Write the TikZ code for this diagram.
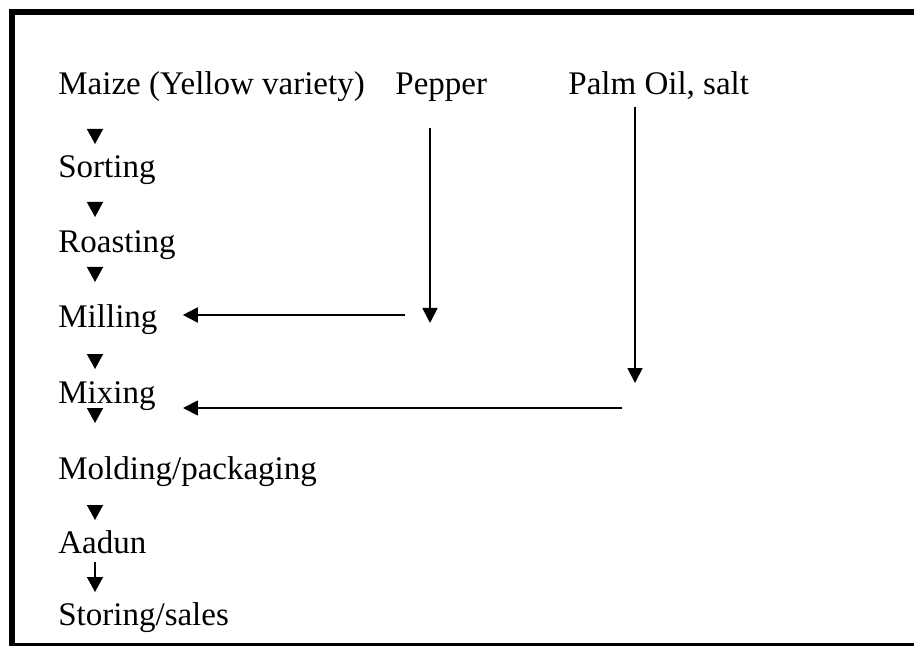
\documentclass[tikz,border=0pt]{standalone}
\usepackage{fontspec}
\setmainfont{Liberation Serif}
\usetikzlibrary{arrows.meta}
\usetikzlibrary{positioning}
\tikzstyle{stage} = [inner sep=0pt, anchor=base west, font=\fontsize{16.5}{19}\selectfont]
\tikzstyle{head} = [line width=0.8pt, -{Triangle[length=7.5pt,width=8pt]}]
\tikzstyle{arrow} = [line width=0.9pt, -{Triangle[length=7.5pt,width=7.5pt]}]

\begin{document}
\begin{tikzpicture}[x=0.5pt, y=-0.5pt]
    \useasboundingbox (0,0) rectangle (914,646);
    \clip (0,0) rectangle (914,646);
    \draw[line width=3pt] (12,12) rectangle (960,645.5);

    % main line of the process
    \node(maize)[stage] at (58,95){Maize (Yellow variety)};
    \node(sort)[stage] at (58,178){Sorting};
    \node(roast)[stage] at (58,253){Roasting};
    \node(mill)[stage] at (58,328){Milling};
    \node(mix)[stage] at (58,403){Mixing};
    \node(mold)[stage] at (58,479){Molding/packaging};
    \node(aadun)[stage] at (58,553){Aadun};
    \node(store)[stage] at (58,625){Storing/sales};

    % other inputs
    \node(pepper)[stage] at (395,95){Pepper};
    \node(palm)[stage] at (568,95){Palm Oil, salt};
    \coordinate(pepperend) at (430,323);
    \coordinate(palmend) at (635,383);
    \coordinate(millin) at (405,315);
    \coordinate(mixin) at (622,408);

    \draw[head]([shift={(37,34)}]maize.base west) -- ([shift={(37,-34)}]sort.base west);
    \draw[head]([shift={(37,24)}]sort.base west) -- ([shift={(37,-36)}]roast.base west);
    \draw[head]([shift={(37,14)}]roast.base west) -- ([shift={(37,-46)}]mill.base west);
    \draw[head]([shift={(37,26)}]mill.base west) -- ([shift={(37,-34)}]mix.base west);
    \draw[head]([shift={(37,5)}]mix.base west) -- ([shift={(37,-56)}]mold.base west);
    \draw[head]([shift={(37,26)}]mold.base west) -- ([shift={(37,-33)}]aadun.base west);
    \draw[head]([shift={(37,9)}]aadun.base west) -- ([shift={(37,-33)}]store.base west);

    \draw[arrow]([shift={(35,33)}]pepper.base west) -- (pepperend);
    \draw[arrow](millin) -- ([shift={(25,-13)}]mill.base east);
    \draw[arrow]([shift={(67,12)}]palm.base west) -- (palmend);
    \draw[arrow](mixin) -- ([shift={(27,5)}]mix.base east);
\end{tikzpicture}
\end{document}
